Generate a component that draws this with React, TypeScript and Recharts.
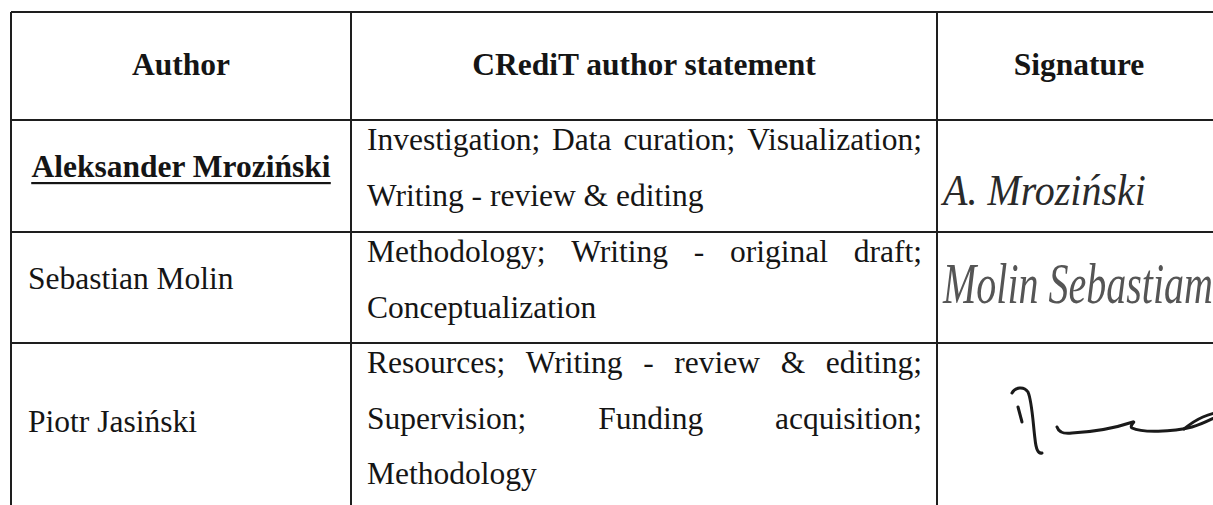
import React from 'react';
import { ComposedChart, ReferenceLine, Scatter, XAxis, YAxis } from 'recharts';

const headers = ['Author', 'CRediT author statement', 'Signature'];
const authors = ['Aleksander Mroziński', 'Sebastian Molin', 'Piotr Jasiński'];
const statements = [
  ['Investigation; Data curation; Visualization;', 'Writing - review & editing'],
  ['Methodology; Writing - original draft;', 'Conceptualization'],
  ['Resources; Writing - review & editing;', 'Supervision; Funding acquisition;', 'Methodology'],
];
const signatures = ['A. Mroziński', 'Molin Sebastiam', ''];

// page geometry of the scanned table
const W = 1213;
const H = 505;
const colEdges = [11, 351, 937, 1221];
const rowEdges = [12, 120, 232, 343, 518];
const FONT = "'Liberation Serif', 'Times New Roman', serif";
const FS = 31.5;
const PAD = 16;
const LINE = 55.5;
const INK = '#151515';

const ctx = typeof document !== 'undefined' ? document.createElement('canvas').getContext('2d') : null;
const measure = (s: string, weight = 'normal') => {
  if (!ctx) return s.length * FS * 0.45;
  ctx.font = `${weight} ${FS}px "Liberation Serif"`;
  return ctx.measureText(s).width;
};

const headerPts = headers.map((text, i) => ({
  x: (colEdges[i] + colEdges[i + 1]) / 2,
  y: 75,
  text,
}));

const authorPts = authors.map((text, i) => ({
  x: i === 0 ? (colEdges[0] + colEdges[1]) / 2 : colEdges[0] + 17,
  y: (rowEdges[i + 1] + rowEdges[i + 2]) / 2 + 1,
  text,
  lead: i === 0,
}));

const statementPts = statements.flatMap((lines, i) =>
  lines.map((text, j) => ({
    x: colEdges[1] + PAD,
    y: rowEdges[i + 1] + 30 + j * LINE,
    text,
    justify: j < lines.length - 1,
  }))
);

const sigPts = signatures.map((text, i) => ({
  x: i === 2 ? colEdges[2] + 75 : colEdges[2] + 6,
  y: [205, 303, 393][i],
  text,
  idx: i,
}));

const HeaderCell = (p: any) => (
  <text x={p.cx} y={p.cy} textAnchor="middle" fontFamily={FONT} fontSize={FS} fontWeight="bold" fill={INK}>
    {p.payload.text}
  </text>
);

const AuthorCell = (p: any) => {
  const { text, lead } = p.payload;
  if (lead) {
    const w = measure(text, 'bold');
    return (
      <g>
        <text x={p.cx} y={p.cy} textAnchor="middle" fontFamily={FONT} fontSize={FS} fontWeight="bold" fill={INK}>
          {text}
        </text>
        <rect x={p.cx - w / 2} y={p.cy + 5} width={w} height={2.2} fill={INK} />
      </g>
    );
  }
  return (
    <text x={p.cx} y={p.cy} fontFamily={FONT} fontSize={FS} fill={INK}>
      {text}
    </text>
  );
};

const StatementCell = (p: any) => {
  const { text, justify } = p.payload;
  if (!justify) {
    return (
      <text x={p.cx} y={p.cy} fontFamily={FONT} fontSize={FS} fill={INK}>
        {text}
      </text>
    );
  }
  const words = text.split(' ');
  const widths = words.map((w: string) => measure(w));
  const lineW = colEdges[2] - colEdges[1] - 2 * PAD + 1;
  const gap = (lineW - widths.reduce((a: number, b: number) => a + b, 0)) / (words.length - 1);
  let x = p.cx;
  return (
    <text y={p.cy} fontFamily={FONT} fontSize={FS} fill={INK}>
      {words.map((w: string, k: number) => {
        const el = (
          <tspan key={k} x={x}>
            {w}
          </tspan>
        );
        x += widths[k] + gap;
        return el;
      })}
    </text>
  );
};

const SignatureCell = (p: any) => {
  const { text, idx } = p.payload;
  if (idx === 2) {
    return (
      <g transform={`translate(${p.cx},${p.cy})`} fill="none" stroke="#1a1a1a" strokeWidth={3} strokeLinecap="round">
        <path d="M0,0 C3,-6 12,-7 16,-1 C20,8 21,30 23,46 C24,56 26,61 30,60" />
        <path d="M6,14 L10,29" />
        <path d="M45,34 C47,40 52,41 60,40 C80,39 100,36 121,29 C124,28 117,33 120,35 C130,40 160,39 180,34 C195,30 205,22 215,20" />
        <path d="M172,36 C184,26 196,20 215,18" />
      </g>
    );
  }
  const big = idx === 1;
  // handwriting: narrow, tall italic strokes
  return (
    <text
      x={0}
      y={0}
      transform={`translate(${p.cx},${p.cy}) scale(1,${big ? 1.45 : 1.1})`}
      fontFamily={FONT}
      fontStyle="italic"
      fontSize={big ? 40 : 40}
      fill={big ? '#555' : '#2a2a2a'}
    >
      {text}
    </text>
  );
};

const gridStyle = { stroke: '#1e1e1e', strokeWidth: 2 };

export default function App() {
  return (
    <div style={{ position: 'absolute', left: 0, top: 0, background: '#fff' }}>
      <ComposedChart width={W} height={H} margin={{ top: 0, right: 0, bottom: 0, left: 0 }}>
        <XAxis type="number" dataKey="x" domain={[0, W]} allowDataOverflow hide />
        <YAxis type="number" dataKey="y" domain={[0, H]} allowDataOverflow reversed hide />
        {rowEdges.slice(0, 4).map((y) => (
          <ReferenceLine key={`h${y}`} segment={[{ x: colEdges[0], y }, { x: W, y }]} ifOverflow="visible" {...gridStyle} />
        ))}
        {colEdges.slice(0, 3).map((x) => (
          <ReferenceLine key={`v${x}`} segment={[{ x, y: rowEdges[0] }, { x, y: H }]} ifOverflow="visible" {...gridStyle} />
        ))}
        <Scatter data={headerPts} shape={HeaderCell} isAnimationActive={false} />
        <Scatter data={authorPts} shape={AuthorCell} isAnimationActive={false} />
        <Scatter data={statementPts} shape={StatementCell} isAnimationActive={false} />
        <Scatter data={sigPts} shape={SignatureCell} isAnimationActive={false} />
      </ComposedChart>
    </div>
  );
}
